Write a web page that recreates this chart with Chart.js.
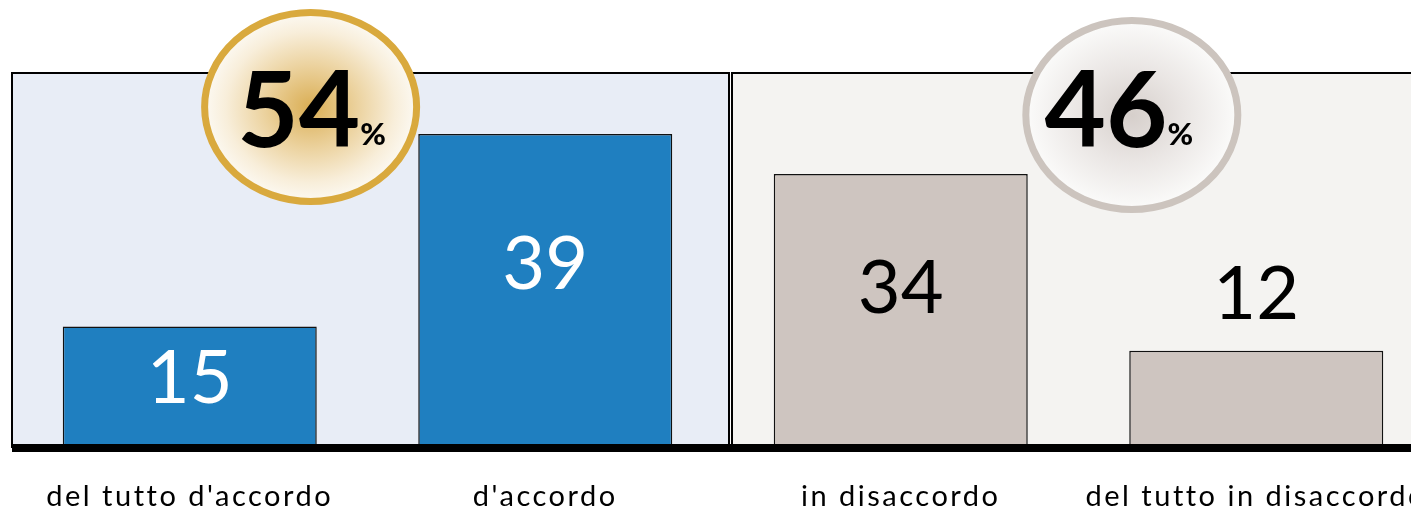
<!DOCTYPE html>
<html><head><meta charset="utf-8">
<script src="https://cdn.jsdelivr.net/npm/chart.js@4.4.1/dist/chart.umd.min.js"></script>
<style>
html,body{margin:0;padding:0;background:#fff;overflow:hidden;width:1411px;height:514px;}
#wrap{position:relative;width:1440px;height:514px;}
canvas{display:block;}
</style></head><body>
<div id="wrap"><canvas id="c" width="1440" height="514"></canvas></div>
<script>
// ---- data ----
const categories = ["del tutto d'accordo", "d'accordo", "in disaccordo", "del tutto in disaccordo"];
const values = [15, 39, 34, 12];
const groupAgree = [0, 1];      // indices summed in the left circle
const groupDisagree = [2, 3];   // indices summed in the right circle
const yMax = 46.6;

// ---- styles ----
const barColors = ['#1F7FC0', '#1F7FC0', '#CEC5C0', '#CEC5C0'];
const labelColors = ['#FFFFFF', '#FFFFFF', '#000000', '#000000'];
const FONT = 'Lato, "Open Sans", sans-serif';

const sumOf = idx => idx.reduce((s, i) => s + values[i], 0);

const decorPlugin = {
  id: 'decor',
  beforeDraw(chart) {
    if ('letterSpacing' in chart.ctx) chart.ctx.letterSpacing = '2.5px';
  },
  beforeDatasetsDraw(chart) {
    const {ctx, chartArea: ca, scales: {x: xs, y: ys}} = chart;
    if ('letterSpacing' in ctx) ctx.letterSpacing = '0px';
    const top = ys.getPixelForValue(yMax);
    const base = ys.getPixelForValue(0);
    const mid = (xs.getPixelForValue(1) + xs.getPixelForValue(2)) / 2;
    ctx.save();
    ctx.lineWidth = 2;
    ctx.strokeStyle = '#000';
    // left panel
    ctx.fillStyle = '#E8EDF6';
    ctx.fillRect(ca.left, top, mid + 6 - ca.left, base - top);
    ctx.strokeRect(ca.left, top, mid + 6 - ca.left, base - top);
    // right panel
    ctx.fillStyle = '#F4F3F1';
    ctx.fillRect(mid + 9, top, ca.right + 40 - (mid + 9), base - top);
    ctx.strokeRect(mid + 9, top, ca.right + 40 - (mid + 9), base - top);
    ctx.restore();
  },
  afterDatasetsDraw(chart) {
    const {ctx, chartArea: ca, scales: {x: xs, y: ys}} = chart;
    const base = ys.getPixelForValue(0);
    const step = xs.getPixelForValue(1) - xs.getPixelForValue(0);
    ctx.save();
    // baseline
    ctx.fillStyle = '#000';
    ctx.fillRect(ca.left, base - 3, chart.width, 8);

    // value labels
    const meta = chart.getDatasetMeta(0);
    meta.data.forEach((bar, i) => {
      const h = bar.base - bar.y;
      const cy = h > 110 ? bar.y + 0.41 * h : bar.y - 59;
      ctx.font = '74px ' + FONT;
      ctx.fillStyle = labelColors[i];
      ctx.textAlign = 'center';
      ctx.textBaseline = 'alphabetic';
      ctx.fillText(String(values[i]), bar.x, cy + 27);
    });

    // circles
    const circles = [
      {cx: xs.getPixelForValue(0) + 0.34 * step, cy: ca.top + 34, val: sumOf(groupAgree), dx: 1,
       stroke: '#D9A93D', stops: [[0, '#DAAE54'], [0.45, '#ECD3A0'], [0.8, '#F8EEDA'], [1, '#FCF9F2']]},
      {cx: xs.getPixelForValue(3) - 0.35 * step, cy: ca.top + 42, val: sumOf(groupDisagree), dx: -13,
       stroke: '#CCC4BE', stops: [[0, '#D6CFCB'], [0.5, '#EAE6E4'], [1, '#FBFBFA']]}
    ];
    const rx = 106, ry = 94.5;
    circles.forEach(c => {
      ctx.save();
      ctx.translate(c.cx, c.cy);
      ctx.scale(1, ry / rx);
      const g = ctx.createRadialGradient(0, 0, 0, 0, 0, rx);
      c.stops.forEach(s => g.addColorStop(s[0], s[1]));
      ctx.beginPath();
      ctx.arc(0, 0, rx, 0, Math.PI * 2);
      ctx.fillStyle = g;
      ctx.fill();
      ctx.restore();
      ctx.save();
      ctx.beginPath();
      ctx.ellipse(c.cx, c.cy, rx, ry, 0, 0, Math.PI * 2);
      ctx.lineWidth = 7;
      ctx.strokeStyle = c.stroke;
      ctx.stroke();
      ctx.restore();

      // text
      const big = String(c.val);
      ctx.fillStyle = '#000';
      ctx.textBaseline = 'alphabetic';
      ctx.textAlign = 'left';
      ctx.font = 'bold 106px ' + FONT;
      const wb = ctx.measureText(big).width;
      ctx.font = '900 31px ' + FONT;
      const wp = ctx.measureText('%').width;
      const total = wb + wp;
      const x0 = c.cx + c.dx - total / 2;
      const by = ca.top + 73.5;
      ctx.font = 'bold 106px ' + FONT;
      ctx.fillText(big, x0, by);
      ctx.font = '900 31px ' + FONT;
      ctx.fillText('%', x0 + wb, by - 2);
    });
    ctx.restore();
  }
};

new Chart(document.getElementById('c'), {
  type: 'bar',
  data: {
    labels: categories,
    datasets: [{
      data: values,
      backgroundColor: barColors,
      borderColor: '#111',
      borderWidth: 1.5,
      borderSkipped: 'bottom',
      barPercentage: 0.7145,
      categoryPercentage: 1
    }]
  },
  options: {
    responsive: false,
    animation: false,
    devicePixelRatio: 1,
    layout: {padding: {left: 12, right: 6, top: 73, bottom: 0}},
    plugins: {legend: {display: false}, tooltip: {enabled: false}},
    scales: {
      x: {
        grid: {display: false, drawTicks: false},
        border: {display: false},
        afterFit(scale) { scale.height = 67; },
        ticks: {color: '#000', padding: 32, font: {family: FONT, size: 29, lineHeight: 1.2}, maxRotation: 0, autoSkip: false}
      },
      y: {
        display: false,
        min: 0,
        max: yMax
      }
    }
  },
  plugins: [decorPlugin]
});
</script>
</body></html>
